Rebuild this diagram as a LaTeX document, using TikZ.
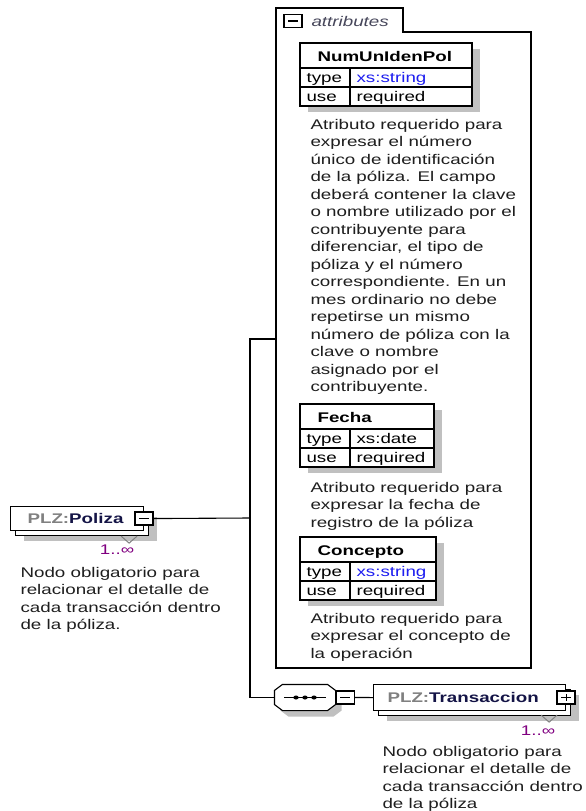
\documentclass[tikz,border=0pt]{standalone}
\usepackage{fontspec}
\setmainfont{Liberation Sans}[FakeStretch=1.34]
\usetikzlibrary{positioning,shadows}
\definecolor{plzgray}{RGB}{128,128,128}
\definecolor{elemname}{RGB}{20,20,70}
\definecolor{occur}{RGB}{128,0,128}
\definecolor{typeblue}{RGB}{30,30,240}
\definecolor{shadegray}{RGB}{192,192,192}
\definecolor{desctext}{RGB}{30,30,30}
\definecolor{attrcol}{RGB}{70,70,90}
\newcommand{\sz}{\fontsize{14}{17.5}\selectfont}
\newcommand{\plz}[1]{\textcolor{plzgray}{PLZ:}\textcolor{elemname}{#1}}
% attribute table: name, x, y, width, title, type
\newcommand{\attrtab}[6]{%
  \fill[shadegray] (#2+8,#3+6) rectangle (#2+#4+8,#3+69);
  \draw[line width=1.3pt, fill=white] (#2,#3) rectangle (#2+#4,#3+63);
  \draw (#2,#3+25) -- (#2+#4,#3+25) (#2,#3+44) -- (#2+#4,#3+44) (#2+50,#3+25) -- (#2+50,#3+63);
  \node[ttl] (#1) at (#2+17,#3+18.5) {#5};
  \node[cell] (#1-tk) at (#2+6,#3+39.5) {type};
  \node[cell] (#1-tv) at (#2+56,#3+39.5) {#6};
  \node[cell] (#1-uk) at (#2+6,#3+58.5) {use};
  \node[cell] (#1-uv) at (#2+56,#3+58.5) {required};
}
% octagon round a node: node, corner cut x, corner cut y
\newcommand{\octagon}[3]{([xshift=#2]#1.north west) -- ([xshift=-#2]#1.north east)
  -- ([yshift=-#3]#1.north east) -- ([yshift=#3]#1.south east)
  -- ([xshift=-#2]#1.south east) -- ([xshift=#2]#1.south west)
  -- ([yshift=#3]#1.south west) -- ([yshift=-#3]#1.north west) -- cycle}
\tikzset{
  txt/.style={font=\sz, inner sep=0pt},
  ttl/.style={txt, font=\sz\bfseries, anchor=base west},
  cell/.style={txt, anchor=base west},
  desc/.style={txt, text=desctext, align=left, anchor=north west},
  occ/.style={txt, text=occur},
  elem/.style={draw, fill=white, font=\sz\bfseries, anchor=north west, align=left,
    inner ysep=0pt, minimum height=25pt,
    drop shadow={shadow xshift=13pt, shadow yshift=-10pt, fill=shadegray, draw=none, opacity=1},
    copy shadow={shadow xshift=5pt, shadow yshift=-5pt, fill=white, draw=black}},
  tog/.style={draw, line width=1.4pt, fill=white, minimum width=18pt, minimum height=13pt, inner sep=0pt},
  minus/.style={tog, path picture={
    \draw[line width=1.2pt] ([xshift=4pt]path picture bounding box.west) -- ([xshift=-4pt]path picture bounding box.east);}},
  plus/.style={tog, path picture={
    \draw[line width=1.2pt] ([xshift=4pt]path picture bounding box.west) -- ([xshift=-4pt]path picture bounding box.east);
    \draw[line width=1.2pt] ([yshift=-3pt]path picture bounding box.north) -- ([yshift=3pt]path picture bounding box.south);}},
  seqbox/.style={rectangle, minimum width=60pt, minimum height=25pt, inner sep=0pt},
}

\begin{document}
\begin{tikzpicture}[x=1pt,y=-1pt,line width=1.1pt]
  \useasboundingbox (0,0) rectangle (586,811);

  % attributes group
  \draw[line width=1.3pt, fill=white] (276,668) -- (276,8) -- (403,8) -- (403,32) -- (531,32) -- (531,668) -- cycle;
  \node[minus] (attrtog) at (293,21) {};
  \node[txt, font=\sz\itshape, text=attrcol, anchor=base west] (attrlbl) at (311,26) {attributes};

  \attrtab{numiden}{300}{43}{172}{NumUnIdenPol}{\textcolor{typeblue}{xs:string}}
  \node[desc] (numidendesc) at (310,118.5) {Atributo requerido para\\expresar el número\\único de identificación\\de la póliza. El campo\\deberá contener la clave\\o nombre utilizado por el\\contribuyente para\\diferenciar, el tipo de\\póliza y el número\\correspondiente. En un\\mes ordinario no debe\\repetirse un mismo\\número de póliza con la\\clave o nombre\\asignado por el\\contribuyente.};

  \attrtab{fecha}{300}{404}{134}{Fecha}{xs:date}
  \node[desc] (fechadesc) at (310,481.5) {Atributo requerido para\\expresar la fecha de\\registro de la póliza};

  \attrtab{concepto}{300}{537}{136}{Concepto}{\textcolor{typeblue}{xs:string}}
  \node[desc] (conceptodesc) at (310,612.5) {Atributo requerido para\\expresar el concepto de\\la operación};

  % root element
  \node[elem, text width=99pt, inner xsep=17pt, minimum height=24pt] (poliza) at (10,506) {\plz{Poliza}};
  \node[minus] (polizatog) at (poliza.east) {};
  \draw[plzgray, line width=1pt] ([xshift=-23pt,yshift=-5pt]poliza.south east) -- ++(8,7) -- ++(8,-7);
  \node[occ] (polizaocc) at ([xshift=-27pt,yshift=-19pt]poliza.south east) {1..∞};
  \node[desc] (polizadesc) at (20,566.5) {Nodo obligatorio para\\relacionar el detalle de\\cada transacción dentro\\de la póliza.};

  % sequence and child
  \node[seqbox] (seq) at (305,697.5) {};
  \fill[shadegray, transform canvas={shift={(6pt,-6pt)}}] \octagon{seq}{8pt}{6pt};
  \draw[fill=white] \octagon{seq}{8pt}{6pt};
  \draw[line width=1pt] (seq.center) +(-21,0) -- +(21,0);
  \foreach \dx in {-9,0,9}
    \fill (seq.center) +(\dx,0) ellipse [x radius=2.7, y radius=2];
  \node[minus, right=0pt of seq] (seqtog) {};

  \node[elem, text width=164pt, inner xsep=14pt, minimum height=26pt] (trans) at (373,684) {\plz{Transaccion}};
  \node[plus] (transtog) at (trans.east) {};
  \draw[plzgray, line width=1pt] ([xshift=-25pt,yshift=-4pt]trans.south east) -- ++(8,7) -- ++(8,-7);
  \node[occ] (transocc) at ([xshift=-28pt,yshift=-20pt]trans.south east) {1..∞};
  \node[desc] (transdesc) at (382,745.5) {Nodo obligatorio para\\relacionar el detalle de\\cada transacción dentro\\de la póliza};

  % connectors
  \coordinate (fork) at (250,518);
  \coordinate (attrin) at (276,339);
  \draw (polizatog.east) -- (fork);
  \draw (attrin) -| (fork) |- (seq.west);
  \draw (seqtog.east) -- (trans.west);
\end{tikzpicture}
\end{document}
